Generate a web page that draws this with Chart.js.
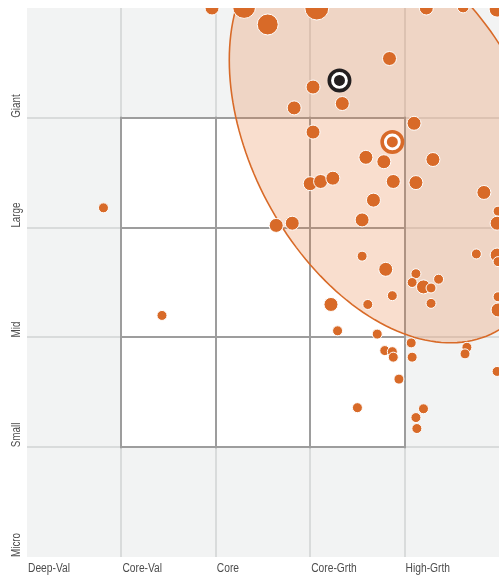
<!DOCTYPE html>
<html>
<head>
<meta charset="utf-8">
<script src="https://cdn.jsdelivr.net/npm/chart.js@4"></script>
<style>
  body { margin: 0; background: #fff; }
  #wrap { width: 499px; height: 576px; }
</style>
</head>
<body>
<div id="wrap"><canvas id="zone" width="499" height="576"></canvas></div>
<script>
/* ================= DATA ================= */
const styleLabels = ["Deep-Val", "Core-Val", "Core", "Core-Grth", "High-Grth", ""];
const sizeLabels = ["Micro", "Small", "Mid", "Large", "Giant", ""];

// holdings: style score (x), size score (y), bubble radius
const holdX = [1.96, 2.30, 2.55, 3.07, 4.23, 4.62, 4.98, 3.84, 3.03, 2.83,
  3.34, 4.10, 3.03, 3.59, 3.78, 4.30, 3.88, 4.12, 3.00, 3.11,
  3.24, 4.84, 3.67, 3.55, 2.64, 2.81, 4.99, 4.98, 3.55, 3.80,
  4.12, 4.08, 4.20, 4.28, 4.36, 4.76, 4.98, 4.99, 3.22, 3.61,
  3.87, 4.28, 4.99, 4.99, 3.29, 3.71, 4.07, 4.66, 4.64, 3.79,
  3.87, 3.88, 4.08, 4.98, 3.94, 3.50, 4.20, 4.12, 4.13, 0.81,
  1.43];
const holdY = [5.00, 5.01, 4.85, 5.00, 5.00, 5.01, 4.99, 4.54, 4.28, 4.09,
  4.13, 3.95, 3.87, 3.64, 3.60, 3.62, 3.42, 3.41, 3.40, 3.42,
  3.45, 3.32, 3.25, 3.07, 3.02, 3.04, 3.15, 3.04, 2.74, 2.62,
  2.58, 2.50, 2.46, 2.45, 2.53, 2.76, 2.75, 2.69, 2.30, 2.30,
  2.38, 2.31, 2.37, 2.25, 2.06, 2.03, 1.95, 1.91, 1.85, 1.88,
  1.87, 1.82, 1.82, 1.69, 1.62, 1.36, 1.35, 1.27, 1.17, 3.18,
  2.20];
const holdR = [7, 11.5, 10.5, 12, 7, 6, 8, 7, 7, 7,
  7, 7, 7, 7, 7, 7, 7, 7, 7, 7,
  7, 7, 7, 7, 7, 7, 5, 7, 5, 7,
  5, 5, 7, 5, 5, 5, 7, 5, 7, 5,
  5, 5, 5, 7, 5, 5, 5, 5, 5, 5,
  5, 5, 5, 5, 5, 5, 5, 5, 5, 5,
  5];

const fundCentroid = [3.87, 3.78];
const indexCentroid = [3.31, 4.34];

// ownership zone: centre and the two semi-axis vectors (style, size units)
const zoneCenter = [3.856, 3.834];
const zoneMajor = [1.104, -1.785];
const zoneMinor = [-1.31, -0.60];

/* ================= PLUGIN ================= */
const ORANGE = "#d86a28";
const FONT = "'Liberation Sans', Arial, sans-serif";
const SQUEEZE = 0.82; // condensed look of the original labels

const zonePlugin = {
  id: "zone",
  beforeDraw(chart) {
    const { ctx, chartArea: a, scales: { x, y } } = chart;
    ctx.save();
    ctx.fillStyle = "#f2f3f3";
    ctx.fillRect(a.left, a.top, a.width, a.height);
    const x1 = x.getPixelForValue(1), x4 = x.getPixelForValue(4);
    const y1 = y.getPixelForValue(1), y4 = y.getPixelForValue(4);
    ctx.fillStyle = "#ffffff";
    ctx.fillRect(x1, y4, x4 - x1, y1 - y4);
    ctx.restore();
  },
  beforeDatasetsDraw(chart) {
    const { ctx, chartArea: a, scales: { x, y } } = chart;
    ctx.save();

    // 3x3 style box
    ctx.strokeStyle = "#9d9d9d";
    ctx.lineWidth = 2;
    ctx.beginPath();
    for (let i = 1; i <= 4; i++) {
      const px = Math.round(x.getPixelForValue(i));
      ctx.moveTo(px, y.getPixelForValue(1) + 1);
      ctx.lineTo(px, y.getPixelForValue(4) - 1);
      const py = Math.round(y.getPixelForValue(i));
      ctx.moveTo(x.getPixelForValue(1) - 1, py);
      ctx.lineTo(x.getPixelForValue(4) + 1, py);
    }
    ctx.stroke();

    // ownership zone
    ctx.beginPath();
    ctx.rect(a.left, a.top, a.width, a.height);
    ctx.clip();
    ctx.beginPath();
    const n = 180;
    for (let i = 0; i <= n; i++) {
      const t = i / n * Math.PI * 2;
      const vx = zoneCenter[0] + zoneMajor[0] * Math.cos(t) + zoneMinor[0] * Math.sin(t);
      const vy = zoneCenter[1] + zoneMajor[1] * Math.cos(t) + zoneMinor[1] * Math.sin(t);
      const px = x.getPixelForValue(vx), py = y.getPixelForValue(vy);
      i ? ctx.lineTo(px, py) : ctx.moveTo(px, py);
    }
    ctx.closePath();
    ctx.fillStyle = "rgba(228,118,50,0.24)";
    ctx.fill();
    ctx.strokeStyle = ORANGE;
    ctx.lineWidth = 1.6;
    ctx.stroke();
    ctx.restore();
  },
  afterDraw(chart) {
    const { ctx, chartArea: a, scales: { x, y } } = chart;
    ctx.save();
    ctx.fillStyle = "#4d4d4d";
    ctx.textAlign = "left";

    // size labels, reading upward from each gridline
    ctx.font = "12px " + FONT;
    ctx.textBaseline = "middle";
    y.ticks.forEach(t => {
      const label = sizeLabels[t.value];
      if (!label) return;
      ctx.save();
      ctx.translate(17, y.getPixelForValue(t.value));
      ctx.rotate(-Math.PI / 2);
      ctx.scale(SQUEEZE, 1);
      ctx.fillText(label, 0, 0);
      ctx.restore();
    });

    // style labels, left-aligned on each gridline
    ctx.font = "12.5px " + FONT;
    ctx.textBaseline = "alphabetic";
    x.ticks.forEach(t => {
      const label = styleLabels[t.value];
      if (!label) return;
      ctx.save();
      ctx.translate(x.getPixelForValue(t.value) + 1, a.bottom + 15);
      ctx.scale(SQUEEZE, 1);
      ctx.fillText(label, 0, 0);
      ctx.restore();
    });
    ctx.restore();
  }
};

/* ================= CHART ================= */
const holdings = holdX.map((v, i) => ({ x: v, y: holdY[i], r: holdR[i] }));

new Chart(document.getElementById("zone"), {
  type: "bubble",
  data: {
    datasets: [
      {
        data: [{ x: fundCentroid[0], y: fundCentroid[1] }, { x: indexCentroid[0], y: indexCentroid[1] }],
        radius: 5.5,
        backgroundColor: [ORANGE, "#231f20"],
        borderWidth: 0,
        clip: 0
      },
      {
        data: [{ x: fundCentroid[0], y: fundCentroid[1] }, { x: indexCentroid[0], y: indexCentroid[1] }],
        radius: 10.2,
        backgroundColor: "#ffffff",
        borderColor: [ORANGE, "#231f20"],
        borderWidth: 3.6,
        clip: 0
      },
      {
        data: holdings,
        backgroundColor: ORANGE,
        borderColor: "#ffffff",
        borderWidth: 1,
        clip: 0
      }
    ]
  },
  options: {
    responsive: false,
    animation: false,
    events: [],
    layout: { autoPadding: false, padding: { left: 27, top: 8, right: 0, bottom: 19 } },
    plugins: { legend: { display: false }, tooltip: { enabled: false } },
    scales: {
      x: {
        type: "linear",
        min: 0,
        max: 5,
        border: { display: false },
        grid: {
          drawTicks: false,
          lineWidth: 2,
          color: c => (c.tick && c.tick.value > 0 && c.tick.value < 5) ? "#d9dbdb" : "rgba(0,0,0,0)"
        },
        ticks: { stepSize: 1, display: false }
      },
      y: {
        type: "linear",
        min: 0,
        max: 5,
        border: { display: false },
        grid: {
          drawTicks: false,
          lineWidth: 2,
          color: c => (c.tick && c.tick.value > 0 && c.tick.value < 5) ? "#d9dbdb" : "rgba(0,0,0,0)"
        },
        ticks: { stepSize: 1, display: false }
      }
    }
  },
  plugins: [zonePlugin]
});
</script>
</body>
</html>
